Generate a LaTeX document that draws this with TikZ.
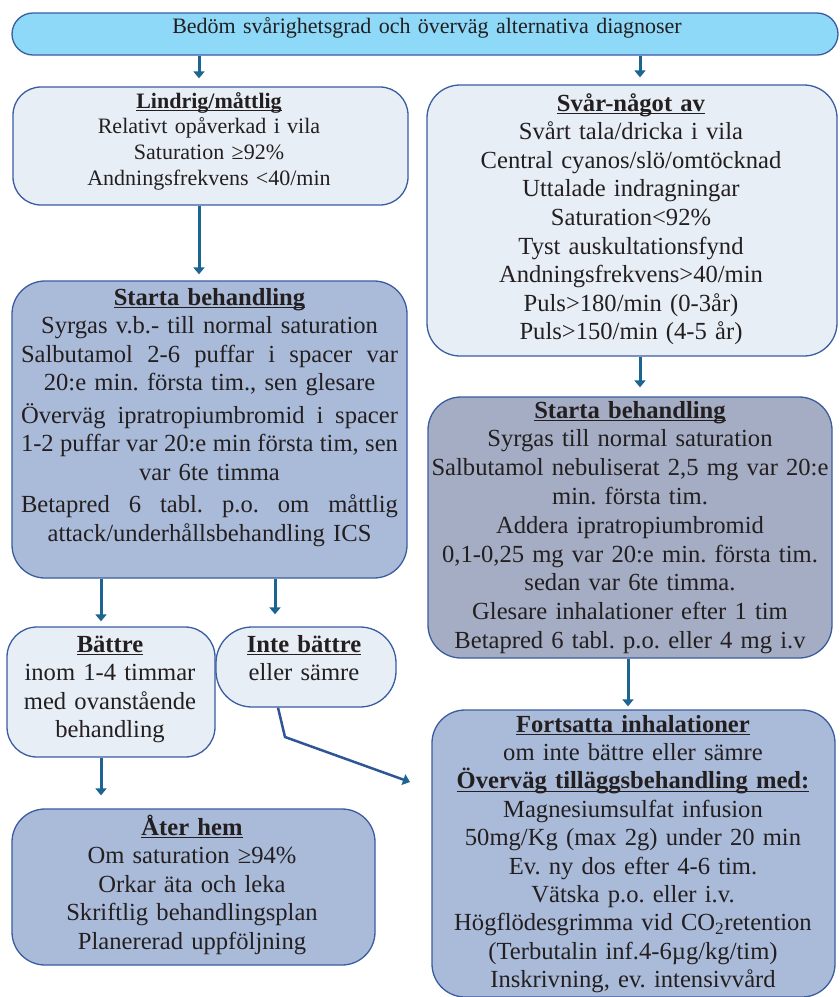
\documentclass[tikz,border=0pt]{standalone}
\usepackage{fontspec}
\setmainfont{Liberation Serif}
\usetikzlibrary{arrows.meta}
\frenchspacing
\definecolor{topfill}{HTML}{8ED8F8}
\definecolor{lightfill}{HTML}{E8EEF6}
\definecolor{midfill}{HTML}{AABBD9}
\definecolor{greyfill}{HTML}{A4ADC3}
\definecolor{bord}{HTML}{3A5DA0}
\definecolor{arrowc}{HTML}{1D6591}
\definecolor{diagc}{HTML}{2F5597}
\definecolor{txt}{HTML}{231F20}
\newcommand\myul[1]{\leavevmode\setbox0\hbox{#1}\rlap{\rule[-3pt]{\wd0}{1.3pt}}\box0}
\newcommand\fs[2]{\fontsize{#1}{#2}\selectfont\lineskiplimit=-50pt\relax\frenchspacing}
\newcommand\jline[1]{\leavevmode\hbox to \linewidth{#1}}
\tikzset{
  box/.style={draw=bord, line width=1.3pt, rounded corners=30pt, inner sep=0pt},
  lbox/.style={box, fill=lightfill},
  mbox/.style={box, fill=midfill},
  txtn/.style={anchor=base, inner sep=0pt, align=center, text=txt},
  big/.style={font=\fs{24.6}{28.5}},
  arr/.style={draw=arrowc, line width=3pt, -{Triangle[width=11pt,length=7pt]}},
}
\begin{document}
\begin{tikzpicture}[x=1pt,y=-1pt]
\clip (0,0) rectangle (839,997);
\fill[white] (0,0) rectangle (839,997);

% top bar
\node[box, fill=topfill, rounded corners=21pt, minimum width=826pt, minimum height=42pt] (top) at (425,34) {};
\node[txtn, font=\fs{22}{26}, text width=700pt] (topT) at (427,33) {Bedöm svårighetsgrad och överväg alternativa diagnoser};

% Lindrig
\node[lbox, rounded corners=28pt, minimum width=395pt, minimum height=118pt] (lind) at (210.5,146) {};
\node[txtn, font=\fs{22}{25.7}, text width=380pt] (lindT) at (209,108) {\myul{\textbf{Lindrig/måttlig}}\\
Relativt opåverkad i vila\\
Saturation ≥92\%\\
Andningsfrekvens <40/min};

% Svår
\node[lbox, rounded corners=33pt, minimum width=410pt, minimum height=271pt] (svar) at (632,220.5) {};
\node[txtn, font=\fs{24.6}{28.6}, text width=400pt] (svarT) at (631,111) {\myul{\textbf{Svår-något av}}\\
Svårt tala/dricka i vila\\
Central cyanos/slö/omtöcknad\\
Uttalade indragningar\\
Saturation<92\%\\
Tyst auskultationsfynd\\
Andningsfrekvens>40/min\\
Puls>180/min (0-3år)\\
Puls>150/min (4-5 år)};

% Starta behandling left
\node[mbox, rounded corners=33pt, minimum width=395pt, minimum height=297pt] (startL) at (209.5,429.5) {};
\node[txtn, big, text width=377pt] (startLT) at (209.5,305) {\myul{\textbf{Starta behandling}}\\
Syrgas v.b.- till normal saturation\\
\jline{Salbutamol\hfill 2-6\hfill puffar\hfill i\hfill spacer\hfill var}\\
20:e min. första tim., sen glesare\\[4pt]
\jline{Överväg\hfill ipratropiumbromid\hfill i\hfill spacer}\\
\jline{1-2\hfill puffar\hfill var\hfill 20:e\hfill min\hfill första\hfill tim,\hfill sen}\\
var 6te timma\\[4pt]
\jline{Betapred\hfill 6\hfill tabl.\hfill p.o.\hfill om\hfill måttlig}\\
attack/underhållsbehandling ICS};

% Starta behandling right
\node[box, fill=greyfill, rounded corners=33pt, minimum width=404pt, minimum height=261pt] (startR) at (630,527.5) {};
\node[txtn, font=\fs{24.6}{28.8}, text width=400pt] (startRT) at (630,418) {\myul{\textbf{Starta behandling}}\\
Syrgas till normal saturation\\
Salbutamol nebuliserat 2,5 mg var 20:e\\
min. första tim.\\
Addera ipratropiumbromid\\
0,1-0,25 mg var 20:e min. första tim.\\
sedan var 6te timma.\\
Glesare inhalationer efter 1 tim\\
Betapred 6 tabl. p.o. eller 4 mg i.v};

% Fortsatta
\node[mbox, rounded corners=33pt, minimum width=403pt, minimum height=287pt] (forts) at (633.5,853.5) {};
\node[txtn, font=\fs{24.6}{28.4}, text width=400pt] (fortsT) at (633,732) {\myul{\textbf{Fortsatta inhalationer}}\\
om inte bättre eller sämre\\
\myul{\textbf{Överväg tilläggsbehandling med:}}\\
Magnesiumsulfat infusion\\
50mg/Kg (max 2g) under 20 min\\
Ev. ny dos efter 4-6 tim.\\
Vätska p.o. eller i.v.\\
Högflödesgrimma vid CO\textsubscript{2}retention\\
(Terbutalin inf.4-6µg/kg/tim)\\
Inskrivning, ev. intensivvård};

% Bättre
\node[lbox, minimum width=208pt, minimum height=130pt] (batt) at (111,692) {};
\node[txtn, big, text width=200pt] (battT) at (110,652) {\myul{\textbf{Bättre}}\\
inom 1-4 timmar\\
med ovanstående\\
behandling};

% Inte bättre
\node[lbox, rounded corners=36pt, minimum width=180pt, minimum height=80pt] (inte) at (306,667) {};
\node[txtn, big, text width=175pt] (inteT) at (304,652) {\myul{\textbf{Inte bättre}}\\
eller sämre};

% Åter hem
\node[mbox, rounded corners=33pt, minimum width=363pt, minimum height=156pt] (ater) at (193.5,887) {};
\node[txtn, big, text width=355pt] (aterT) at (192,835) {\myul{\textbf{Åter hem}}\\
Om saturation ≥94\%\\
Orkar äta och leka\\
Skriftlig behandlingsplan\\
Planererad uppföljning};

% connectors
\draw[arr, shorten >=8pt] (199,0 |- top.south) -- (199,0 |- lind.north);
\draw[arr, shorten >=7pt] (640,0 |- top.south) -- (640,0 |- svar.north);
\draw[arr, shorten >=6pt] (199,0 |- lind.south) -- (199,0 |- startL.north);
\draw[arr, shorten >=9pt] (640,0 |- svar.south) -- (640,0 |- startR.north);
\draw[arr, shorten >=3pt] (628,0 |- startR.south) -- (628,0 |- forts.north);
\draw[arr, shorten >=5pt] (101,0 |- startL.south) -- (101,0 |- batt.north);
\draw[arr, shorten >=12pt] (275,0 |- startL.south) -- (275,0 |- inte.north);
\draw[arr, shorten >=13pt] (101,0 |- batt.south) -- (101,0 |- ater.north);
\coordinate (bend) at (285,737);
\coordinate (tipI) at (410,782);
\draw[draw=diagc, line width=2.5pt, -{Triangle[width=11pt,length=7pt,color=arrowc]}] (278,0 |- inte.south) -- (bend) -- (tipI);
\end{tikzpicture}
\end{document}
